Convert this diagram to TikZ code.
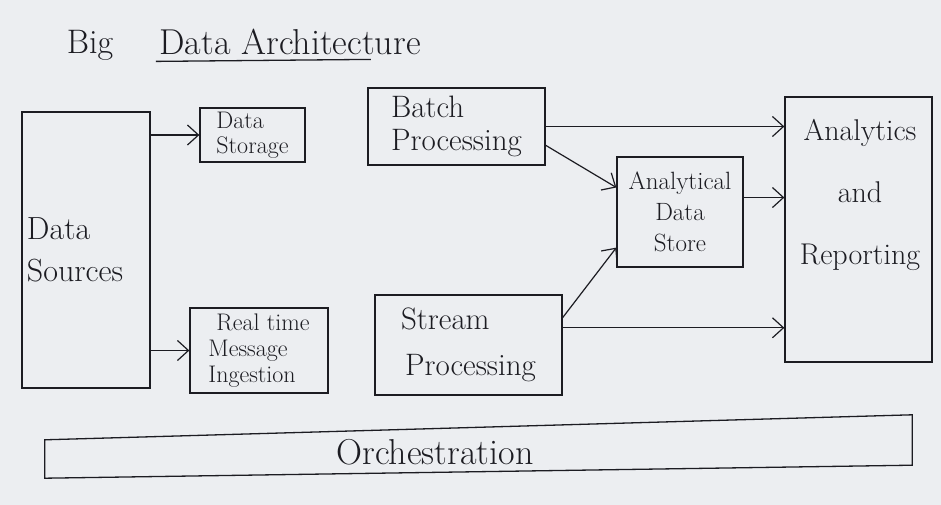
\documentclass[tikz,border=0pt]{standalone}
\usetikzlibrary{arrows.meta,calc}
\definecolor{paper}{RGB}{236,238,241}
\definecolor{ink}{RGB}{28,28,34}
\newcommand\hfs[2]{\fontsize{#1}{#2}\selectfont}
\begin{document}
\begin{tikzpicture}[x=1pt,y=-1pt,
  every node/.style={text=ink},
  box/.style={draw=ink, line width=1.3pt, inner sep=4pt},
  pen/.style={draw=ink, line width=1.3pt},
  arr/.style={draw=ink, line width=1.2pt, -{Straight Barb[length=11pt,width=20pt,line width=1.2pt]}}]
\path[fill=paper] (0,0) rectangle (941,505);
\useasboundingbox (0,0) rectangle (941,505);
% title
\node[font=\hfs{34}{38}] (big) at (90,45) {Big};
\node[font=\hfs{36}{40}] (arch) at (290,42) {Data Architecture};
\draw[pen] (arch.south west) ++(0,3) -- ++(215,-2);
% boxes
\node[box, text width=118pt, align=left, minimum height=276pt, inner sep=5pt, font=\hfs{32}{42}] (src) at (86,250) {Data\\Sources};
\node[box, minimum width=105pt, minimum height=54pt, inner sep=1.5pt, font=\hfs{24}{25}, align=left] (stor) at (252.5,135) {Data\\Storage};
\node[box, minimum width=138pt, minimum height=85pt, inner sep=2pt, font=\hfs{24}{26}, align=left] (rt) at (259,350.5) {\hspace*{8pt}Real time\\Message\\Ingestion};
\node[box, minimum width=177pt, minimum height=77pt, inner sep=3pt, font=\hfs{31}{33}, align=left] (batch) at (456.5,126.5) {Batch\\Processing};
\node[box, minimum width=187pt, minimum height=100pt, font=\hfs{31}{46}, align=left] (stream) at (468.5,345) {Stream\\\hspace*{4pt}Processing};
\node[box, minimum width=126pt, minimum height=110pt, inner sep=2pt, font=\hfs{25}{31}, align=center] (ads) at (680,212) {Analytical\\Data\\Store};
\node[box, minimum width=147pt, minimum height=265pt] (an) at (858.5,229.5) {};
\node[font=\hfs{30}{62}, align=center] (antext) at (860,195) {Analytics\\and\\Reporting};
% orchestration
\node[minimum width=867pt, minimum height=65pt, inner sep=0pt] (orch) at (478.5,447.5) {};
\node[font=\hfs{36}{40}] (orchtext) at (435,452) {Orchestration};
\draw[pen] ([yshift=-25pt]orch.north west) -- (orch.north east) -- ([yshift=15pt]orch.south east) -- ([yshift=2pt]orch.south west) -- cycle;
% connectors
\draw[arr] (src.east |- stor.west) -- (stor.west);
\draw[arr] (src.east |- rt.west) -- (rt.west);
\draw[arr] (batch.east) -- (an.west |- batch.east);
\draw[arr] ($(batch.north east)!0.74!(batch.south east)$) -- ($(ads.north west)!0.28!(ads.south west)$);
\coordinate (adsout) at ($(ads.north east)!0.37!(ads.south east)$);
\draw[arr] (adsout) -- (an.west |- adsout);
\draw[arr] ($(stream.north east)!0.23!(stream.south east)$) -- ($(ads.north west)!0.82!(ads.south west)$);
\coordinate (strout) at ($(stream.north east)!0.33!(stream.south east)$);
\draw[arr] (strout) -- (an.west |- strout);
\end{tikzpicture}
\end{document}
